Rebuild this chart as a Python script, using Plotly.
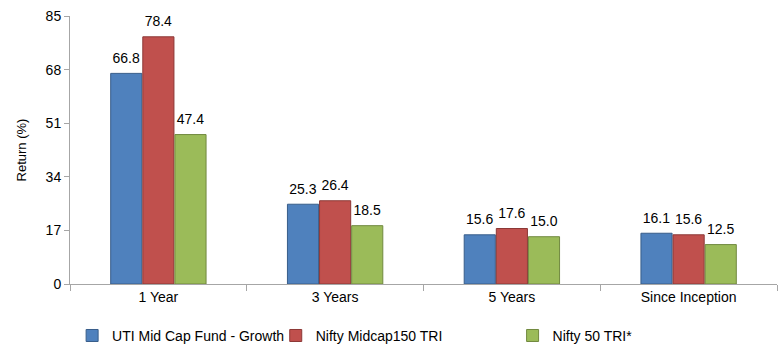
import plotly.graph_objects as go

categories = ["1 Year", "3 Years", "5 Years", "Since Inception"]
series_names = ["UTI Mid Cap Fund - Growth", "Nifty Midcap150 TRI", "Nifty 50 TRI*"]
fund = [66.8, 25.3, 15.6, 16.1]
midcap = [78.4, 26.4, 17.6, 15.6]
nifty50 = [47.4, 18.5, 15.0, 12.5]
y_ticks = [0, 17, 34, 51, 68, 85]

colors = ["#4F81BD", "#C0504D", "#9BBB59"]
edges = ["#385D8A", "#8C3836", "#71893F"]
legend_ids = ["legend", "legend2", "legend3"]
legend_x = [0.003, 0.291, 0.626]

FONT = "Liberation Sans, Arial, sans-serif"

fig = go.Figure()
for name, vals, c, e, lid in zip(series_names, [fund, midcap, nifty50], colors, edges, legend_ids):
    fig.add_trace(go.Bar(
        x=categories, y=vals, name=name,
        marker=dict(color=c, line=dict(color=e, width=1)),
        text=[f"<span style='font-size:14px'>{v:.1f}</span><br> " for v in vals],
        textposition="outside",
        textfont=dict(family=FONT, size=5, color="#000"),
        constraintext="none", cliponaxis=False,
        legend=lid,
    ))

leg_common = dict(orientation="h", yanchor="middle", yref="container", y=0.032,
                  xanchor="left",
                  font=dict(family=FONT, size=14, color="#000"),
                  bgcolor="rgba(0,0,0,0)", itemwidth=30)
layout_legends = {}
for lid, lx in zip(legend_ids, legend_x):
    layout_legends[lid] = dict(leg_common, x=lx)

fig.update_layout(
    width=780, height=347,
    margin=dict(l=70, r=3, t=16, b=63, autoexpand=False),
    plot_bgcolor="white", paper_bgcolor="white",
    barmode="group", bargap=0.455, bargroupgap=0.03,
    font=dict(family=FONT, size=14, color="#000"),
    showlegend=True,
    **layout_legends,
)
fig.update_xaxes(
    showline=True, linecolor="#A6A6A6", linewidth=1,
    ticks="outside", tickson="boundaries", ticklen=6, tickcolor="#A6A6A6",
    showgrid=False, tickfont=dict(family=FONT, size=14, color="#000"),
)
fig.update_yaxes(
    range=[0, 85], tickvals=y_ticks, ticktext=[str(t) for t in y_ticks],
    showline=True, linecolor="#A6A6A6", linewidth=1,
    ticks="outside", ticklen=5, tickcolor="#A6A6A6",
    showgrid=False, zeroline=False,
    tickfont=dict(family=FONT, size=14, color="#000"),
    title=dict(text="Return (%)", font=dict(family=FONT, size=13, color="#000"), standoff=16),
)

fig.write_html("out.html")
